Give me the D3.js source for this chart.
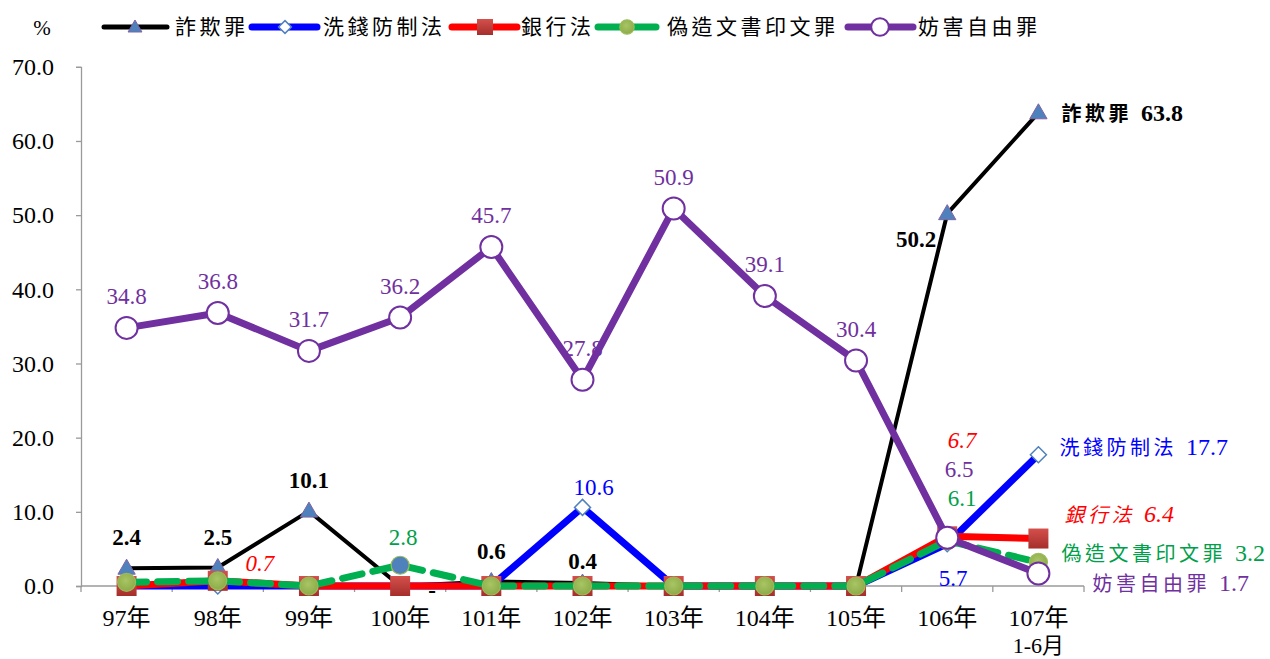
<!DOCTYPE html>
<html>
<head>
<meta charset="utf-8">
<script src="https://cdn.jsdelivr.net/npm/d3@7"></script>
<style>
  html, body { margin: 0; padding: 0; background: #fff; }
  svg { display: block; }
  text { font-family: "Liberation Serif", "Noto Sans CJK TC", serif; }
</style>
</head>
<body>
<svg id="chart" width="1270" height="659"></svg>
<script>
// ---------------- data ----------------
const categories = ["97年","98年","99年","100年","101年","102年","103年","104年","105年","106年","107年"];
const subLabels  = ["","","","","","","","","","","1-6月"];
const seriesNames = ["詐欺罪","洗錢防制法","銀行法","偽造文書印文罪","妨害自由罪"];
const fraud           = [2.4, 2.5, 10.1, 0,   0.6, 0.4,  0,    0,    0,    50.2, 63.8];
const moneyLaundering = [0,   0,   0,    0,   0,   10.6, 0,    0,    0,    5.7,  17.7];
const banking         = [0,   0.7, 0,    0,   0,   0,    0,    0,    0,    6.7,  6.4];
const forgery         = [0.5, 0.7, 0,    2.8, 0,   0,    0,    0,    0,    6.1,  3.2];
const freedom         = [34.8,36.8,31.7, 36.2,45.7,27.8, 50.9, 39.1, 30.4, 6.5,  1.7];
const fraudLabels           = ["2.4","2.5","10.1","-","0.6","0.4",null,null,null,"50.2","63.8"];
const moneyLaunderingLabels = [null,null,null,null,null,"10.6",null,null,null,"5.7","17.7"];
const bankingLabels         = [null,"0.7",null,null,null,null,null,null,null,"6.7","6.4"];
const forgeryLabels         = [null,null,null,"2.8",null,null,null,null,null,"6.1","3.2"];
const freedomLabels         = ["34.8","36.8","31.7","36.2","45.7","27.8","50.9","39.1","30.4","6.5","1.7"];
const yTicks = [0,10,20,30,40,50,60,70];
const yTickLabels = ["0.0","10.0","20.0","30.0","40.0","50.0","60.0","70.0"];
const unitLabel = "%";

// ---------------- layout / style ----------------
const svg = d3.select("#chart");
const x = d3.scaleBand().domain(categories).range([81, 1084]).padding(0);
const cx = c => x(c) + x.bandwidth() / 2;
const y = d3.scaleLinear().domain([0, 70]).range([586, 66.8]);
const axisColor = "#9a9a9a";

// y axis
const yAxis = d3.axisLeft(y).tickValues(yTicks).tickSize(5).tickPadding(6)
  .tickFormat((d, i) => yTickLabels[i]);
const gy = svg.append("g").attr("transform", "translate(81,0)").call(yAxis);
gy.select(".domain").attr("stroke", axisColor).attr("stroke-width", 1.3);
gy.selectAll(".tick line").attr("stroke", axisColor).attr("stroke-width", 1.3);
gy.selectAll(".tick text").attr("font-size", 24).attr("fill", "#000")
  .attr("font-family", "Liberation Serif").attr("x", -27);

// x axis
const gx = svg.append("g").attr("transform", "translate(0,586)");
gx.append("line").attr("x1", 81).attr("x2", 1084).attr("stroke", axisColor).attr("stroke-width", 1.3);
gx.selectAll("line.tk").data(categories.concat(["__end"])).enter().append("line")
  .attr("class", "tk")
  .attr("x1", (d, i) => i < categories.length ? x(d) : x.range()[1])
  .attr("x2", (d, i) => i < categories.length ? x(d) : x.range()[1])
  .attr("y1", 0).attr("y2", 6).attr("stroke", axisColor).attr("stroke-width", 1.3);
gx.selectAll("text.cat").data(categories).enter().append("text")
  .attr("class", "cat").attr("x", d => cx(d)).attr("y", 40)
  .attr("text-anchor", "middle").attr("font-size", 24).text(d => d);
gx.selectAll("text.sub").data(categories).enter().append("text")
  .attr("class", "sub").attr("x", d => cx(d)).attr("y", 67)
  .attr("text-anchor", "middle").attr("font-size", 22).text((d, i) => subLabels[i]);

// defs
const defs = svg.append("defs");
const sg = defs.append("linearGradient").attr("id", "sqGrad").attr("x1", 0).attr("y1", 0).attr("x2", 0).attr("y2", 1);
sg.append("stop").attr("offset", "0%").attr("stop-color", "#d4504c");
sg.append("stop").attr("offset", "100%").attr("stop-color", "#a52e2b");
const gg = defs.append("radialGradient").attr("id", "grGrad").attr("cx", "45%").attr("cy", "40%").attr("r", "60%");
gg.append("stop").attr("offset", "0%").attr("stop-color", "#a9c565");
gg.append("stop").attr("offset", "100%").attr("stop-color", "#8cab48");

const series = [
  { name: seriesNames[0], values: fraud, labels: fraudLabels, color: "#000000", width: 4, dash: null,
    marker: "triangle", textColor: "#000", bold: true, italic: false },
  { name: seriesNames[1], values: moneyLaundering, labels: moneyLaunderingLabels, color: "#0000ff", width: 7, dash: null,
    marker: "diamond", textColor: "#0000ff", bold: false, italic: false },
  { name: seriesNames[2], values: banking, labels: bankingLabels, color: "#ff0000", width: 7, dash: null,
    marker: "square", textColor: "#ff0000", bold: false, italic: true },
  { name: seriesNames[3], values: forgery, labels: forgeryLabels, color: "#00b050", width: 7, dash: "20,11",
    marker: "greenCircle", textColor: "#00a04a", bold: false, italic: false },
  { name: seriesNames[4], values: freedom, labels: freedomLabels, color: "#7030a0", width: 7, dash: null,
    marker: "whiteCircle", textColor: "#7030a0", bold: false, italic: false }
];

// label offsets (style), keyed by series index -> point index; [dx, dy, anchor]
const labelOffsets = {
  0: { default: [0, -31], 3: [32, 4], 5: [0, -22], 9: [-31, 25], 10: [23, 0, "start"] },
  1: { 5: [11, -20], 9: [6, 34], 10: [21, -8, "start"] },
  2: { 1: [42, -18], 9: [15, -96], 10: [26, -25, "start"] },
  3: { 3: [3, -28], 9: [15, -43], 10: [23, -9, "start"] },
  4: { default: [0, -32], 9: [12, -69], 10: [54, 10, "start"] }
};
const markerFillOverride = { 3: { 3: "#4f81bd" } };

function drawMarker(g, type, px, py, s, i, scale) {
  const k = scale || 1;
  if (type === "triangle") {
    g.append("path").attr("d", d3.symbol(d3.symbolTriangle, 130 * k * k)())
      .attr("transform", `translate(${px},${py + 1})`)
      .attr("fill", "#4f81bd").attr("stroke", "#8064a2").attr("stroke-width", 1);
  } else if (type === "diamond") {
    const h = 8 * k;
    g.append("path").attr("d", `M${px},${py - h}L${px + h},${py}L${px},${py + h}L${px - h},${py}Z`)
      .attr("fill", "#fff").attr("stroke", "#4f81bd").attr("stroke-width", 1.5);
  } else if (type === "square") {
    const h = 10 * k;
    g.append("rect").attr("x", px - h).attr("y", py - h).attr("width", 2 * h).attr("height", 2 * h)
      .attr("fill", "url(#sqGrad)");
  } else if (type === "greenCircle") {
    const ov = (markerFillOverride[s] || {})[i];
    g.append("circle").attr("cx", px).attr("cy", py).attr("r", 9 * k)
      .attr("fill", ov || "url(#grGrad)").attr("stroke", "#9bbb59").attr("stroke-width", 1.2);
  } else if (type === "whiteCircle") {
    g.append("circle").attr("cx", px).attr("cy", py).attr("r", 11 * k)
      .attr("fill", "#fff").attr("stroke", "#7030a0").attr("stroke-width", 2);
  }
}

const line = d3.line().x((d, i) => cx(categories[i])).y(d => y(d));
const plot = svg.append("g");

series.forEach((s, si) => {
  const g = plot.append("g");
  g.append("path").datum(s.values).attr("d", line)
    .attr("fill", "none").attr("stroke", s.color).attr("stroke-width", s.width)
    .attr("stroke-linejoin", "round").attr("stroke-linecap", s.dash ? "round" : "butt")
    .attr("stroke-dasharray", s.dash);
  s.values.forEach((v, i) => drawMarker(g, s.marker, cx(categories[i]), y(v), si, i));
});

// data labels
series.forEach((s, si) => {
  const offs = labelOffsets[si] || {};
  s.labels.forEach((lab, i) => {
    if (lab == null) return;
    const o = offs[i] || offs.default || [0, -30];
    const t = svg.append("text")
      .attr("x", cx(categories[i]) + o[0])
      .attr("y", y(s.values[i]) + o[1])
      .attr("dy", "0.35em")
      .attr("text-anchor", o[2] || "middle")
      .attr("font-size", 23)
      .attr("fill", s.textColor)
      .attr("font-weight", s.bold ? "bold" : "normal")
      .attr("font-style", s.italic ? "italic" : "normal");
    if (o[2] === "start") {
      // end-of-line label: series name + value
      t.append("tspan").attr("font-family", "Noto Sans CJK TC").attr("font-size", 20)
        .attr("letter-spacing", 3.5).text(s.name);
      t.append("tspan").attr("dx", 9).attr("letter-spacing", 0).attr("font-size", 24).text(lab);
    } else {
      t.text(lab);
    }
  });
});

// legend
svg.append("text").attr("x", 42).attr("y", 28).attr("dy", "0.35em").attr("text-anchor", "middle")
  .attr("font-family", "Liberation Sans").attr("font-size", 21).text(unitLabel);
const legendLayout = [
  { x1: 104, x2: 167, m: 135, t: 175 },
  { x1: 252, x2: 317, m: 285, t: 323 },
  { x1: 452, x2: 517, m: 485, t: 521 },
  { x1: 598, x2: 656, m: 627, t: 667 },
  { x1: 848, x2: 913, m: 880, t: 918 }
];
const ly = 27;
series.forEach((s, si) => {
  const L = legendLayout[si];
  const g = svg.append("g");
  g.append("line").attr("x1", L.x1).attr("x2", L.x2).attr("y1", ly).attr("y2", ly)
    .attr("stroke", s.color).attr("stroke-width", si === 0 ? 5 : 7).attr("stroke-linecap", "round");
  drawMarker(g, s.marker, L.m, ly, -1, -1, 0.8);
  g.append("text").attr("x", L.t).attr("y", ly).attr("dy", "0.35em")
    .attr("font-family", "Noto Sans CJK TC").attr("font-size", 21).attr("letter-spacing", 3.5)
    .text(s.name);
});
</script>
</body>
</html>
